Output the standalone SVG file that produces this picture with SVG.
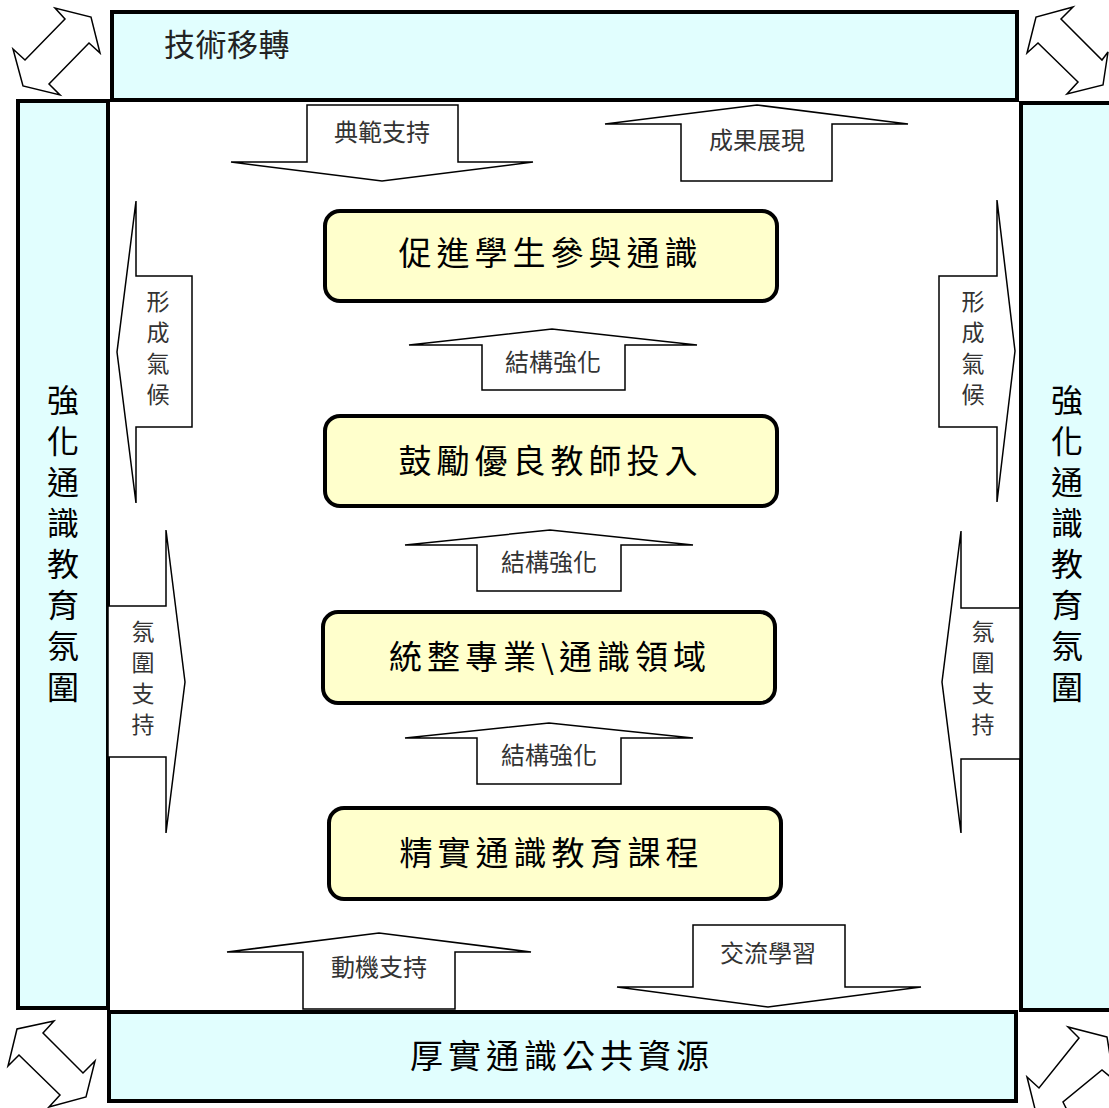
<svg xmlns="http://www.w3.org/2000/svg" width="1109" height="1108" viewBox="0 0 1109 1108">
<style>
.frame{fill:#E1FEFE;stroke:#000;stroke-width:4}
.node{fill:#FFFFCC;stroke:#000;stroke-width:4}
.arr{fill:#fff;stroke:#000;stroke-width:1.5;stroke-linejoin:miter}
.big{font-family:"Noto Sans CJK TC","Noto Sans CJK SC",sans-serif;font-size:33px;fill:#000;text-anchor:middle;letter-spacing:5px}
.vbig{font-family:"Noto Sans CJK TC","Noto Sans CJK SC",sans-serif;font-size:32px;fill:#000;writing-mode:vertical-rl;text-orientation:upright;letter-spacing:9px}
.lbl{font-family:"Noto Sans CJK TC","Noto Sans CJK SC",sans-serif;font-size:24px;fill:#333;text-anchor:middle}
.vlbl{font-family:"Noto Sans CJK TC","Noto Sans CJK SC",sans-serif;font-size:23px;fill:#333;text-anchor:middle}
.top{font-family:"Noto Sans CJK TC","Noto Sans CJK SC",sans-serif;font-size:31px;fill:#222;letter-spacing:0.5px}
</style>
<rect width="1109" height="1108" fill="#fff"/>

<g id="frame-top">
<rect class="frame" x="112" y="12" width="905" height="88"/>
<text class="top" x="164" y="56">技術移轉</text>
</g>
<g id="frame-left">
<rect class="frame" x="18" y="101" width="90" height="907"/>
<text class="vbig" x="63" y="384">強化通識教育氛圍</text>
</g>
<g id="frame-right">
<rect class="frame" x="1021" y="103" width="100" height="907"/>
<text class="vbig" x="1067" y="384">強化通識教育氛圍</text>
</g>
<g id="frame-bottom">
<rect class="frame" x="109" y="1012" width="907" height="89"/>
<text class="big" x="562" y="1068">厚實通識公共資源</text>
</g>

<g id="node1">
<rect class="node" x="325" y="211" width="452" height="90" rx="15"/>
<text class="big" x="550.5" y="265">促進學生參與通識</text>
</g>
<g id="node2">
<rect class="node" x="325" y="416" width="452" height="90" rx="15"/>
<text class="big" x="550.5" y="473">鼓勵優良教師投入</text>
</g>
<g id="node3">
<rect class="node" x="323" y="612" width="452" height="91" rx="15"/>
<text class="big" x="550" y="669">統整專業\通識領域</text>
</g>
<g id="node4">
<rect class="node" x="329" y="808" width="452" height="91" rx="15"/>
<text class="big" x="551.5" y="865">精實通識教育課程</text>
</g>

<g id="connectors">
<polygon class="arr" points="13,49 25,60 65,19 55,8 91,17 100,53 89,43 49,84 60,95 23,86"/>
<polygon class="arr" points="1027,53 1038,43 1078,82 1067,94 1103,85 1108,52 1102,60 1061,19 1073,7 1036,17"/>
<polygon class="arr" points="8,1066 19,1055 60,1095 49,1107 86,1097 95,1061 83,1073 43,1033 54,1021 17,1029"/>
<polygon class="arr" points="1107,1037 1068,1027 1079,1038 1039,1088 1027,1077 1036,1113 1073,1122 1063,1102 1102,1070 1114,1080"/>

<polygon class="arr" points="307,105 458,105 458,162 533,162 382,181 231,162 307,162"/>
<text class="lbl" x="382" y="141">典範支持</text>
<polygon class="arr" points="681,181 681,124 605,124 757,105 908,124 832,124 832,181"/>
<text class="lbl" x="757" y="149">成果展現</text>

<polygon class="arr" points="482,390 482,345 409,345 552,329 697,345 625,345 625,390"/>
<text class="lbl" x="553" y="371">結構強化</text>
<polygon class="arr" points="477,591 477,545 405,545 550,530 693,545 621,545 621,591"/>
<text class="lbl" x="549" y="571">結構強化</text>
<polygon class="arr" points="477,784 477,738 405,738 549,723 693,738 621,738 621,784"/>
<text class="lbl" x="549" y="764">結構強化</text>

<polygon class="arr" points="303,1009 303,952 227,952 379,933 531,952 455,952 455,1009"/>
<text class="lbl" x="379" y="976">動機支持</text>
<polygon class="arr" points="693,925 845,925 845,987 921,987 768,1007 617,987 693,987"/>
<text class="lbl" x="768" y="962">交流學習</text>

<polygon class="arr" points="192,276 192,427 136,427 136,503 117,352 136,201 136,276"/>
<text class="vlbl"><tspan x="158" y="310">形</tspan><tspan x="158" y="341">成</tspan><tspan x="158" y="372">氣</tspan><tspan x="158" y="403">候</tspan></text>
<polygon class="arr" points="108,606 166,606 166,530 185,682 166,833 166,757 108,757"/>
<text class="vlbl"><tspan x="143" y="640">氛</tspan><tspan x="143" y="671">圍</tspan><tspan x="143" y="702">支</tspan><tspan x="143" y="733">持</tspan></text>

<polygon class="arr" points="939,276 997,276 997,200 1015,351 997,502 997,427 939,427"/>
<text class="vlbl"><tspan x="973" y="310">形</tspan><tspan x="973" y="341">成</tspan><tspan x="973" y="372">氣</tspan><tspan x="973" y="403">候</tspan></text>
<polygon class="arr" points="1020,608 961,608 961,531 942,682 961,833 961,759 1020,759"/>
<text class="vlbl"><tspan x="983" y="640">氛</tspan><tspan x="983" y="671">圍</tspan><tspan x="983" y="702">支</tspan><tspan x="983" y="733">持</tspan></text>
</g>
</svg>
